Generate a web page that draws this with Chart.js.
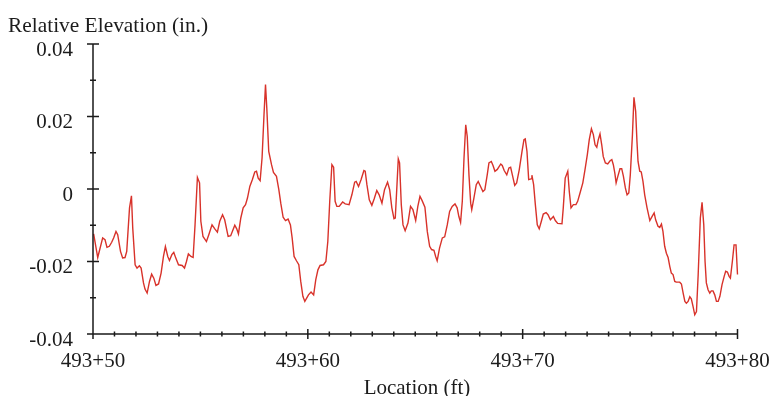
<!DOCTYPE html>
<html>
<head>
<meta charset="utf-8">
<script src="https://cdn.jsdelivr.net/npm/chart.js@4.4.1/dist/chart.umd.min.js"></script>
<style>
  body { margin: 0; background: #fff; }
  #grafica { display: block; }
</style>
</head>
<body>
<canvas id="grafica" width="775" height="396"></canvas>
<script type="text/javascript">

    // estacion 493, ubicacion en pies dentro de la estacion
    var estacion = 493
    var ubicaciones = [
        50.03,50.22,50.45,50.56,50.65,50.76,50.87,50.96,51.07,51.15,
        51.28,51.38,51.49,51.57,51.70,51.79,51.85,51.96,52.05,52.16,
        52.24,52.35,52.42,52.52,52.63,52.73,52.83,52.93,53.05,53.17,
        53.28,53.37,53.48,53.56,53.67,53.76,53.85,53.98,54.15,54.26,
        54.35,54.44,54.56,54.66,54.75,54.86,54.96,55.02,55.12,55.28,
        55.39,55.54,55.67,55.79,55.90,56.03,56.13,56.29,56.41,56.60,
        56.69,56.77,56.88,56.99,57.10,57.19,57.30,57.42,57.53,57.61,
        57.69,57.78,57.87,57.96,58.03,58.09,58.18,58.31,58.40,58.54,
        58.65,58.74,58.85,58.96,59.08,59.19,59.27,59.36,59.47,59.58,
        59.67,59.77,59.86,60.03,60.15,60.27,60.37,60.47,60.57,60.73,
        60.84,60.93,61.02,61.12,61.20,61.27,61.35,61.46,61.62,61.74,
        61.92,62.05,62.18,62.25,62.36,62.48,62.61,62.67,62.75,62.86,
        62.98,63.09,63.21,63.32,63.45,63.57,63.71,63.81,63.91,64.01,
        64.07,64.15,64.21,64.27,64.35,64.43,64.53,64.66,64.78,64.89,
        65.02,65.12,65.22,65.32,65.45,65.56,65.67,65.76,65.87,65.95,
        66.02,66.13,66.26,66.37,66.49,66.60,66.72,66.85,66.95,67.03,
        67.11,67.19,67.27,67.35,67.42,67.50,67.58,67.63,67.73,67.84,
        67.93,68.04,68.15,68.24,68.35,68.43,68.54,68.62,68.71,68.82,
        68.98,69.05,69.14,69.26,69.36,69.44,69.52,69.63,69.72,69.84,
        69.97,70.06,70.12,70.20,70.28,70.39,70.43,70.51,70.59,70.68,
        70.77,70.87,70.96,71.09,71.18,71.29,71.43,71.52,71.63,71.83,
        71.89,71.98,72.10,72.17,72.25,72.36,72.48,72.56,72.67,72.80,
        72.90,73.01,73.10,73.20,73.29,73.37,73.45,73.52,73.60,73.68,
        73.75,73.85,73.96,74.07,74.15,74.22,74.29,74.35,74.43,74.53,
        74.61,74.69,74.78,74.86,74.94,75.01,75.11,75.18,75.26,75.32,
        75.37,75.45,75.52,75.60,75.68,75.79,75.92,76.02,76.12,76.19,
        76.30,76.38,76.46,76.53,76.61,76.69,76.77,76.85,76.92,77.00,
        77.08,77.15,77.31,77.39,77.47,77.55,77.62,77.70,77.78,77.85,
        77.93,78.01,78.09,78.17,78.27,78.35,78.43,78.49,78.55,78.63,
        78.71,78.78,78.86,78.94,79.02,79.10,79.18,79.28,79.38,79.45,
        79.53,79.61,79.67,79.76,79.84,79.93,80.00,80.03,80.11
    ]
    // elevacion relativa (in.)
    var elevaciones = [
        -0.0124,-0.0189,-0.0135,-0.0140,-0.0161,-0.0158,-0.0147,-0.0135,-0.0117,-0.0126,
        -0.0172,-0.0190,-0.0189,-0.0172,-0.0052,-0.0019,-0.0108,-0.0209,-0.0218,-0.0212,
        -0.0218,-0.0259,-0.0276,-0.0287,-0.0255,-0.0235,-0.0246,-0.0266,-0.0262,-0.0232,
        -0.0186,-0.0159,-0.0186,-0.0197,-0.0181,-0.0175,-0.0190,-0.0209,-0.0211,-0.0218,
        -0.0200,-0.0179,-0.0186,-0.0189,-0.0099,0.0032,0.0017,-0.0089,-0.0131,-0.0145,
        -0.0126,-0.0099,-0.0110,-0.0119,-0.0089,-0.0071,-0.0085,-0.0131,-0.0129,-0.0100,
        -0.0110,-0.0124,-0.0080,-0.0052,-0.0043,-0.0025,0.0007,0.0026,0.0047,0.0049,
        0.0030,0.0023,0.0086,0.0205,0.0288,0.0223,0.0104,0.0067,0.0046,0.0035,
        -0.0002,-0.0039,-0.0078,-0.0087,-0.0083,-0.0099,-0.0135,-0.0186,-0.0198,-0.0209,
        -0.0255,-0.0296,-0.0310,-0.0292,-0.0284,-0.0292,-0.0250,-0.0223,-0.0211,-0.0209,
        -0.0200,-0.0145,-0.0034,0.0067,0.0060,-0.0034,-0.0048,-0.0048,-0.0036,-0.0041,
        -0.0043,-0.0016,0.0019,0.0021,0.0007,0.0026,0.0051,0.0049,0.0012,-0.0030,
        -0.0045,-0.0027,-0.0004,-0.0016,-0.0039,-0.0002,0.0019,-0.0002,-0.0052,-0.0082,
        -0.0080,0.0012,0.0083,0.0072,-0.0043,-0.0099,-0.0115,-0.0094,-0.0048,-0.0057,
        -0.0087,-0.0048,-0.0020,-0.0032,-0.0050,-0.0117,-0.0158,-0.0167,-0.0169,-0.0186,
        -0.0198,-0.0163,-0.0135,-0.0132,-0.0099,-0.0062,-0.0048,-0.0041,-0.0052,-0.0076,
        -0.0092,-0.0034,0.0086,0.0177,0.0145,0.0039,-0.0039,-0.0057,-0.0025,0.0012,
        0.0021,0.0007,-0.0007,-0.0002,0.0039,0.0072,0.0076,0.0065,0.0049,0.0054,
        0.0069,0.0065,0.0051,0.0039,0.0058,0.0060,0.0039,0.0010,0.0017,0.0053,
        0.0104,0.0136,0.0138,0.0104,0.0026,0.0028,0.0038,0.0012,-0.0043,-0.0099,
        -0.0110,-0.0089,-0.0069,-0.0065,-0.0071,-0.0085,-0.0076,-0.0087,-0.0095,-0.0096,
        -0.0052,0.0030,0.0049,-0.0007,-0.0052,-0.0043,-0.0043,-0.0034,-0.0011,0.0017,
        0.0053,0.0095,0.0136,0.0166,0.0150,0.0122,0.0115,0.0136,0.0152,0.0122,
        0.0090,0.0072,0.0069,0.0078,0.0081,0.0067,0.0044,0.0017,0.0035,0.0056,
        0.0056,0.0035,0.0003,-0.0016,-0.0011,0.0039,0.0150,0.0253,0.0214,0.0131,
        0.0076,0.0049,0.0047,0.0021,-0.0016,-0.0052,-0.0087,-0.0076,-0.0066,-0.0085,
        -0.0103,-0.0106,-0.0097,-0.0117,-0.0158,-0.0177,-0.0189,-0.0214,-0.0232,-0.0236,
        -0.0255,-0.0257,-0.0257,-0.0262,-0.0287,-0.0310,-0.0315,-0.0310,-0.0297,-0.0303,
        -0.0324,-0.0347,-0.0338,-0.0236,-0.0080,-0.0037,-0.0099,-0.0200,-0.0259,-0.0278,
        -0.0287,-0.0281,-0.0281,-0.0292,-0.0310,-0.0310,-0.0296,-0.0264,-0.0241,-0.0227,
        -0.0229,-0.0241,-0.0246,-0.0200,-0.0154,-0.0154,-0.0236,-0.0241,-0.0266
    ]
    var ticksX = [50, 60, 70, 80]
    var ticksY = [-0.04, -0.02, 0, 0.02, 0.04]
    var tituloY = "Relative Elevation (in.)"
    var tituloX = "Location (ft)"

    var fuente = "'Liberation Serif', 'Times New Roman', serif"
    var colorTexto = "#1c1c1c"

    var puntos = ubicaciones.map((u, i) => ({ x: u, y: elevaciones[i] }))

    // ejes con marcas que cruzan la linea, y titulos
    var ejesPlugin = {
        id: "ejes",
        afterDraw(chart) {
            let ctx = chart.ctx
            let sx = chart.scales.x
            let sy = chart.scales.y
            let x0 = sx.getPixelForValue(50)
            let x1 = sx.getPixelForValue(80)
            let y0 = sy.getPixelForValue(-0.04)
            let y1 = sy.getPixelForValue(0.04)
            ctx.save()
            ctx.strokeStyle = "#1a1a1a"
            ctx.lineWidth = 1.5
            ctx.beginPath()
            ctx.moveTo(x0, y1); ctx.lineTo(x0, y0); ctx.lineTo(x1, y0)
            // x: menores cada pie, mayores cada 10
            for (let v = 50; v <= 80; v++) {
                let px = sx.getPixelForValue(v)
                let h = (v % 10 === 0) ? 5 : 2.5
                ctx.moveTo(px, y0 - h); ctx.lineTo(px, y0 + h)
            }
            // y: menores cada 0.01
            for (let k = -4; k <= 4; k++) {
                let py = sy.getPixelForValue(k / 100)
                let w = (k % 2 === 0) ? 6 : 3
                ctx.moveTo(x0 - w, py); ctx.lineTo(x0 + w, py)
            }
            ctx.stroke()

            ctx.fillStyle = colorTexto
            ctx.font = "21.4px " + fuente
            ctx.textBaseline = "alphabetic"
            ctx.textAlign = "left"
            ctx.fillText(tituloY, 8, 32)
            ctx.font = "21px " + fuente
            ctx.textAlign = "center"
            ctx.fillText(tituloX, 417, 394)
            ctx.restore()
        }
    }

    var canvas = document.getElementById('grafica')
    var context = canvas.getContext('2d')

    window.linea = new Chart(context, {
        type: "line",
        data: {
            datasets: [{
                label: "Elevacion",
                data: puntos,
                borderColor: "#d8322a",
                borderWidth: 1.4,
                pointRadius: 0,
                tension: 0,
                fill: false,
                clip: false
            }]
        },
        options: {
            responsive: false,
            animation: false,
            layout: { padding: { left: 0, top: 44, right: 37.5, bottom: 0 } },
            plugins: {
                legend: { display: false },
                tooltip: { enabled: false }
            },
            scales: {
                x: {
                    type: "linear",
                    min: 50,
                    max: 80,
                    afterFit: (s) => { s.height = 62; s.paddingLeft = 0; s.paddingRight = 0 },
                    afterBuildTicks: (s) => { s.ticks = ticksX.map(v => ({ value: v })) },
                    grid: { display: false, drawTicks: false },
                    border: { display: false },
                    ticks: {
                        padding: 15,
                        maxRotation: 0,
                        color: colorTexto,
                        font: { family: fuente, size: 21 },
                        callback: (v) => estacion + "+" + v
                    }
                },
                y: {
                    min: -0.04,
                    max: 0.04,
                    afterFit: (s) => { s.width = 93; s.paddingTop = 0; s.paddingBottom = 0 },
                    afterBuildTicks: (s) => { s.ticks = ticksY.map(v => ({ value: v })) },
                    grid: { display: false, drawTicks: false },
                    border: { display: false },
                    ticks: {
                        padding: 20,
                        labelOffset: 6,
                        color: colorTexto,
                        font: { family: fuente, size: 21 },
                        callback: (v) => v === 0 ? "0" : v.toFixed(2)
                    }
                }
            }
        },
        plugins: [ejesPlugin]
    });

</script>
</body>
</html>
